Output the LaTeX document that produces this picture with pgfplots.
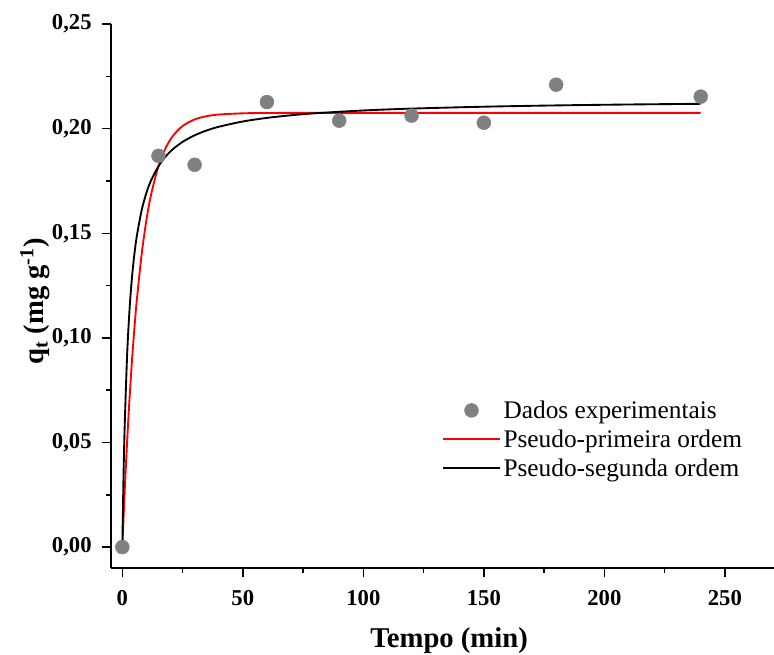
\documentclass[border=0pt]{standalone}
\usepackage{pgfplots}
\pgfplotsset{compat=1.18}
\usepackage{fontspec}
\setmainfont{Liberation Serif}
\begin{document}
\begin{tikzpicture}
\begin{axis}[
  scale only axis,
  width=497.25pt, height=408pt,
  xmin=-4.7, xmax=270.4,
  ymin=-0.01, ymax=0.25,
  axis lines*=left,
  axis line style={line width=1.1pt},
  tick align=outside,
  tick style={line width=1.1pt, black},
  major tick length=7pt,
  minor tick length=3.5pt,
  xtick={0,50,100,150,200,250},
  ytick={0,0.05,0.1,0.15,0.2,0.25},
  minor x tick num=1,
  minor y tick num=1,
  /pgf/number format/assume math mode=true,
  yticklabel style={/pgf/number format/.cd, fixed, fixed zerofill, precision=2, use comma, /tikz/.cd, xshift=-4pt},
  xticklabel style={/pgf/number format/.cd, fixed, precision=0, /tikz/.cd, yshift=-6pt},
  tick label style={font=\fontsize{17}{20}\selectfont\bfseries},
  xlabel={Tempo (min)},
  ylabel={q\textsubscript{t} (mg g\textsuperscript{-1})},
  label style={font=\fontsize{21.5}{25}\selectfont\bfseries},
  xlabel style={at={(axis description cs:0.51,-0.147)}, anchor=base},
  ylabel style={at={(axis description cs:-0.1146,0.49)}, anchor=center},
  legend style={at={(axis description cs:0.495,0.318)}, anchor=north west, draw=none, fill=none,
    font=\fontsize{19}{22}\selectfont, row sep=3pt, inner sep=2pt},
  legend cell align=left,
  legend image code/.code={\draw[mark repeat=2,mark phase=2,#1] plot coordinates {(0cm,0cm)(0.75cm,0cm)(1.5cm,0cm)};},
]
\addplot[only marks, mark=*, mark size=5.2pt, color={rgb,255:red,128;green,128;blue,128}]
coordinates {(0,0) (15,0.187) (30,0.1827) (60,0.2127) (90,0.2038) (120,0.2062) (150,0.2028) (180,0.221) (240,0.2153)};
\addlegendentry{Dados experimentais}
\addplot[color=red, line width=1.4pt, no marks, smooth] coordinates {
(0,0) (0.5,0.01403) (1,0.02710) (2,0.05067) (3,0.07117) (4,0.08898) (5,0.10446) (6,0.11792) (8,0.13979) (10,0.15633) (12,0.16882) (15,0.18208) (18,0.19080) (21,0.19652) (25,0.20123) (30,0.20439) (35,0.20595) (40,0.20673) (50,0.20731) (60,0.20748) (80,0.2075) (120,0.2075) (180,0.2075) (240,0.2075)};
\addlegendentry{Pseudo-primeira ordem}
\addplot[color=black, line width=1.4pt, no marks, smooth] coordinates {
(0,0) (0.5,0.03397) (1,0.05865) (2,0.09208) (3,0.11368) (4,0.12880) (5,0.13996) (6,0.14853) (8,0.16086) (10,0.16930) (12,0.17543) (15,0.18201) (18,0.18670) (21,0.19019) (25,0.19366) (30,0.19681) (35,0.19912) (40,0.20088) (50,0.20341) (60,0.20513) (70,0.20638) (80,0.20733) (100,0.20867) (120,0.20957) (150,0.21047) (180,0.21109) (210,0.21153) (240,0.21186)};
\addlegendentry{Pseudo-segunda ordem}
\end{axis}
\pgfresetboundingbox
\path (-83.25pt,-64.5pt) rectangle (497.25pt,426pt);
\end{tikzpicture}
\end{document}
